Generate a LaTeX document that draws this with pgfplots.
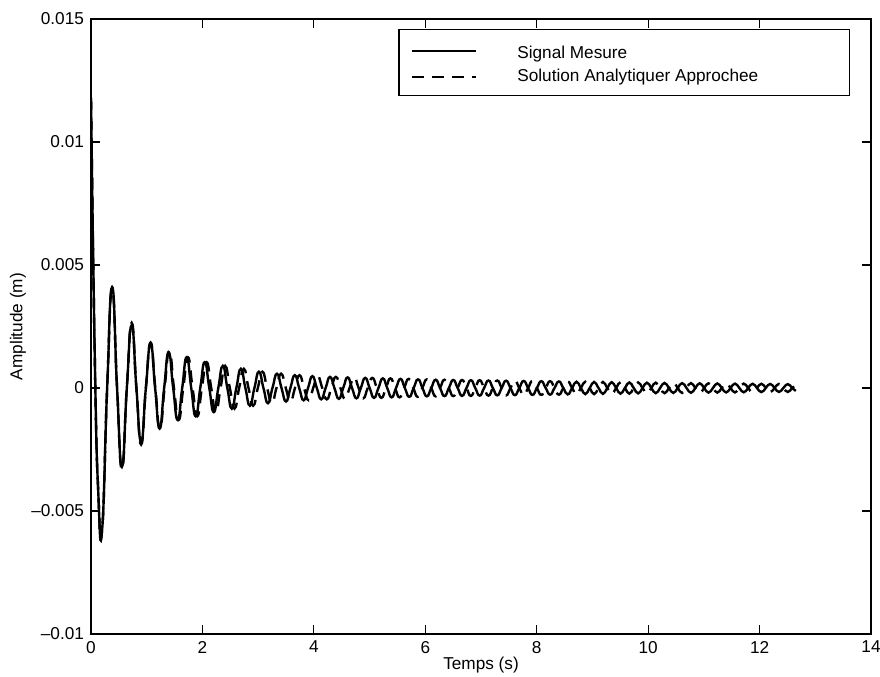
\documentclass[border=0pt]{standalone}
\usepackage{fontspec}
\setmainfont{Liberation Sans}
\usepackage{pgfplots}
\pgfplotsset{compat=1.18}
\usepackage{pgfplotstable}

\pgfplotstableread{
t y
0 11.8e-3
0.07 1.0e-3
0.13 -4.2e-3
0.2 -5.75e-3
0.29 0
0.38 4.1e-3
0.468 0
0.555 -3.2e-3
0.643 0
0.73 2.55e-3
0.815 0
0.9 -2.2e-3
0.985 0
1.07 1.8e-3
1.151 0
1.232 -1.65e-3
1.313 0
1.394 1.45e-3
1.475 0
1.556 -1.3e-3
1.637 0
1.718 1.25e-3
1.799 0
1.88 -1.15e-3
1.961 0
2.042 1.05e-3
2.123 0
2.204 -0.98e-3
2.285 0
2.366 0.9e-3
2.447 0
2.528 -0.84e-3
2.609 0
2.69 0.78e-3
2.771 0
2.852 -0.72e-3
2.933 0
3.014 0.66e-3
3.095 0
3.176 -0.62e-3
3.257 0
3.338 0.58e-3
3.419 0
3.50 -0.55e-3
3.579 0
3.658 0.52e-3
3.737 0
3.816 -0.50e-3
3.895 0
3.974 0.48e-3
4.053 0
4.132 -0.46e-3
4.211 0
4.29 0.45e-3
4.369 0
4.448 -0.44e-3
4.527 0
4.606 0.43e-3
4.685 0
4.764 -0.42e-3
4.843 0
4.922 0.41e-3
5.001 0
5.08 -0.40e-3
5.159 0
5.238 0.39e-3
5.317 0
5.396 -0.38e-3
5.475 0
5.554 0.37e-3
5.633 0
5.712 -0.36e-3
5.791 0
5.87 0.35e-3
5.949 0
6.028 -0.34e-3
6.107 0
6.186 0.335e-3
6.265 0
6.344 -0.33e-3
6.423 0
6.502 0.325e-3
6.581 0
6.66 -0.32e-3
6.739 0
6.818 0.315e-3
6.897 0
6.976 -0.31e-3
7.055 0
7.134 0.305e-3
7.213 0
7.292 -0.30e-3
7.371 0
7.45 0.295e-3
7.529 0
7.608 -0.29e-3
7.687 0
7.766 0.285e-3
7.845 0
7.924 -0.28e-3
8.003 0
8.082 0.275e-3
8.161 0
8.24 -0.27e-3
8.319 0
8.398 0.265e-3
8.477 0
8.556 -0.26e-3
8.635 0
8.714 0.255e-3
8.793 0
8.872 -0.25e-3
8.951 0
9.03 0.245e-3
9.109 0
9.188 -0.24e-3
9.267 0
9.346 0.235e-3
9.425 0
9.504 -0.23e-3
9.583 0
9.662 0.225e-3
9.741 0
9.82 -0.22e-3
9.899 0
9.978 0.215e-3
10.057 0
10.136 -0.21e-3
10.215 0
10.294 0.205e-3
10.373 0
10.452 -0.20e-3
10.531 0
10.61 0.197e-3
10.689 0
10.768 -0.194e-3
10.847 0
10.926 0.19e-3
11.005 0
11.084 -0.187e-3
11.163 0
11.242 0.184e-3
11.321 0
11.40 -0.18e-3
11.479 0
11.558 0.177e-3
11.637 0
11.716 -0.174e-3
11.795 0
11.874 0.17e-3
11.953 0
12.032 -0.167e-3
12.111 0
12.19 0.164e-3
12.269 0
12.348 -0.16e-3
12.427 0
12.506 0.157e-3
12.585 0
12.65 -0.12e-3
}\solidtable

\pgfplotstableread{
t y
0 11.8e-3
0.07 1.0e-3
0.13 -4.2e-3
0.2 -5.75e-3
0.29 0
0.38 4.0e-3
0.468 0
0.555 -3.3e-3
0.643 0
0.73 2.65e-3
0.815 0
0.9 -2.3e-3
0.985 0
1.07 1.85e-3
1.154 0
1.237 -1.65e-3
1.321 0
1.405 1.5e-3
1.489 0
1.572 -1.3e-3
1.656 0
1.739 1.25e-3
1.823 0
1.906 -1.15e-3
1.99 0
2.074 1.05e-3
2.158 0
2.241 -0.98e-3
2.325 0
2.408 0.9e-3
2.492 0
2.575 -0.84e-3
2.659 0
2.743 0.78e-3
2.827 0
2.91 -0.72e-3
2.994 0
3.077 0.66e-3
3.161 0
3.245 -0.62e-3
3.329 0
3.412 0.58e-3
3.496 0
3.579 -0.55e-3
3.661 0
3.742 0.52e-3
3.824 0
3.906 -0.50e-3
3.988 0
4.069 0.48e-3
4.151 0
4.232 -0.46e-3
4.314 0
4.395 0.45e-3
4.477 0
4.559 -0.44e-3
4.641 0
4.722 0.43e-3
4.804 0
4.885 -0.42e-3
4.967 0
5.049 0.41e-3
5.131 0
5.212 -0.40e-3
5.294 0
5.375 0.39e-3
5.457 0
5.538 -0.38e-3
5.62 0
5.702 0.37e-3
5.784 0
5.865 -0.36e-3
5.947 0
6.028 0.35e-3
6.107 0
6.186 -0.34e-3
6.265 0
6.344 0.335e-3
6.423 0
6.502 -0.33e-3
6.581 0
6.66 0.325e-3
6.739 0
6.818 -0.32e-3
6.897 0
6.976 0.315e-3
7.055 0
7.134 -0.31e-3
7.213 0
7.292 0.305e-3
7.371 0
7.45 -0.30e-3
7.529 0
7.608 0.295e-3
7.687 0
7.766 -0.29e-3
7.845 0
7.924 0.285e-3
8.003 0
8.082 -0.28e-3
8.161 0
8.24 0.275e-3
8.319 0
8.398 -0.27e-3
8.477 0
8.556 0.265e-3
8.635 0
8.714 -0.26e-3
8.793 0
8.872 0.255e-3
8.951 0
9.03 -0.25e-3
9.109 0
9.188 0.245e-3
9.267 0
9.346 -0.24e-3
9.425 0
9.504 0.235e-3
9.583 0
9.662 -0.23e-3
9.741 0
9.82 0.225e-3
9.899 0
9.978 -0.22e-3
10.057 0
10.136 0.215e-3
10.215 0
10.294 -0.21e-3
10.373 0
10.452 0.205e-3
10.531 0
10.61 -0.20e-3
10.689 0
10.768 0.197e-3
10.847 0
10.926 -0.194e-3
11.005 0
11.084 0.19e-3
11.163 0
11.242 -0.187e-3
11.321 0
11.40 0.184e-3
11.479 0
11.558 -0.18e-3
11.637 0
11.716 0.177e-3
11.795 0
11.874 -0.174e-3
11.953 0
12.032 0.17e-3
12.111 0
12.19 -0.167e-3
12.269 0
12.348 0.164e-3
12.427 0
12.506 -0.16e-3
12.585 0
12.65 0.12e-3
}\dashedtable

\begin{document}
\begin{tikzpicture}
\begin{axis}[name=ax,
  scale only axis, width=390pt, height=307.5pt,
  xmin=0, xmax=14, ymin=-0.01, ymax=0.015,
  xtick={0,2,4,6,8,10,12,14},
  xticklabels={0,2,4,6,8,10,12,14},
  ytick={-0.01,-0.005,0,0.005,0.01,0.015},
  yticklabels={--0.01,--0.005,0,0.005,0.01,0.015},
  scaled y ticks=false,
  tick align=inside, major tick length=4.5pt,
  tick style={black, line width=0.6pt},
  axis line style={black, line width=0.8pt},
  font=\fontsize{8.6}{10}\selectfont,
  tick label style={font=\fontsize{8.6}{10}\selectfont},
  xlabel={Temps (s)}, ylabel={Amplitude (m)},
  xlabel style={at={(axis description cs:0.5,-0.05)}, anchor=center},
  ylabel style={at={(axis description cs:-0.0936,0.5)}, anchor=center},
  legend image code/.code={\draw[#1] (0pt,0pt) -- (32pt,0pt);},
  legend style={at={(axis description cs:0.973,0.9837)}, anchor=north east,
    draw=black, line width=0.6pt, fill=white, column sep=18pt,
    inner xsep=6pt, inner ysep=3.5pt, row sep=0pt,
    font=\fontsize{8.6}{10}\selectfont},
  legend cell align=left,
]
\addplot[black, line width=1.2pt, smooth, tension=0.9] table[x=t, y=y] {\solidtable};
\addlegendentry{\rule{0pt}{8.8pt}\makebox[158pt][l]{Signal Mesure}}
\addplot[black, line width=1.2pt, smooth, tension=0.9, dash pattern=on 6pt off 4pt] table[x=t, y=y] {\dashedtable};
\addlegendentry{\makebox[158pt][l]{Solution Analytiquer Approchee}}
\end{axis}
\pgfresetboundingbox
\path ([shift={(-45.5pt,-21.5pt)}]ax.south west) rectangle ([shift={(4.5pt,9.5pt)}]ax.north east);
\end{tikzpicture}
\end{document}
